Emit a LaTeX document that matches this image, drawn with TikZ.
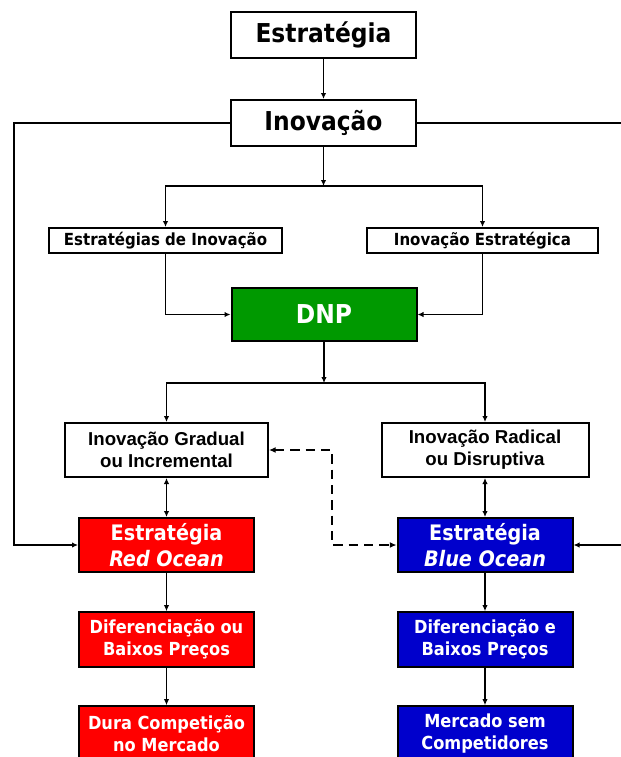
\documentclass[tikz,border=0pt]{standalone}
\usepackage{fontspec}
\setmainfont{Liberation Sans}
\newfontfamily\tahoma{DejaVu Sans Condensed}
\usetikzlibrary{arrows.meta, calc}
\definecolor{dnpgreen}{RGB}{0,153,0}
\definecolor{redocean}{RGB}{255,0,0}
\definecolor{blueocean}{RGB}{0,0,204}

\begin{document}
\begin{tikzpicture}[
  x=0.75pt, y=-0.75pt,
  box/.style={draw=black, line width=1.5pt, inner sep=0pt, align=center, fill=white},
  bigbox/.style={box, minimum width=138.75pt, minimum height=34.5pt, font=\tahoma\bfseries\fontsize{19.5}{23}\selectfont},
  midbox/.style={box, minimum height=18.75pt, font=\tahoma\bfseries\fontsize{12.5}{14}\selectfont},
  twobox/.style={box, minimum height=40.5pt, font=\bfseries\fontsize{14}{16.5}\selectfont},
  oceanbox/.style={box, text=white, minimum width=131.25pt, minimum height=40.5pt, font=\tahoma\bfseries\fontsize{16}{19}\selectfont},
  stepbox/.style={box, text=white, minimum width=131.25pt, minimum height=41pt, font=\tahoma\bfseries\fontsize{13.5}{16.5}\selectfont},
  link/.style={line width=0.8pt, -{Latex[length=4.5pt,width=4pt]}},
  both/.style={line width=0.8pt, {Latex[length=4.5pt,width=4pt]}-{Latex[length=4.5pt,width=4pt]}},
  dashlink/.style={line width=1.5pt, dash pattern=on 7pt off 4.5pt, {Latex[length=5pt,width=4.5pt]}-{Latex[length=5pt,width=4.5pt]}}
]
  \useasboundingbox (0,0) rectangle (621,757);

  % top
  \node[bigbox] (estr) at (323.5,35) {Estratégia};
  \node[bigbox] (inov) at (323.5,123) {Inovação};
  \node[midbox, minimum width=174.75pt] (estinov) at (165.5,240.5) {Estratégias de Inovação};
  \node[midbox, minimum width=173.25pt] (inovest) at (482.5,240.5) {Inovação Estratégica};
  \node[bigbox, fill=dnpgreen, text=white, minimum height=39.75pt] (dnp) at (324,314.5) {DNP};

  % innovation types
  \node[twobox, minimum width=152.25pt] (grad) at (166.5,450) {Inovação Gradual\\ou Incremental};
  \node[twobox, minimum width=155.25pt] (rad) at (485,450) {Inovação Radical\\ou Disruptiva};

  % red / blue ocean
  \node[oceanbox, fill=redocean] (red) at (166.5,545) {Estratégia\\\itshape Red Ocean};
  \node[oceanbox, fill=blueocean] (blue) at (485,545) {Estratégia\\\itshape Blue Ocean};
  \node[stepbox, fill=redocean] (reddif) at (166.5,639.5) {Diferenciação ou\\Baixos Preços};
  \node[stepbox, fill=blueocean] (bluedif) at (485,639.5) {Diferenciação e\\Baixos Preços};
  \node[stepbox, fill=redocean] (redmkt) at (166.5,733.5) {Dura Competição\\no Mercado};
  \node[stepbox, fill=blueocean] (bluemkt) at (485,733.5) {Mercado sem\\Competidores};

  \coordinate (split1) at (323.5,186);
  \coordinate (split2) at (324,383);
  \coordinate (lefttop) at (14,123);
  \coordinate (righttop) at (626,123);
  \coordinate (dashbend) at (332,450);

  \draw[link] (estr) -- (inov);
  \draw[link] (inov) -- (split1);
  \draw[link] (split1) -| (estinov);
  \draw[link] (split1) -| (inovest);
  \draw[link] (estinov) |- (dnp);
  \draw[link] (inovest) |- (dnp);
  \draw[link] (dnp) -- (split2);
  \draw[link] (split2) -| (grad);
  \draw[link] (split2) -| (rad);
  \draw[link] (inov.west) -- (lefttop) |- (red.west);
  \draw[link] (inov.east) -- (righttop) |- (blue.east);
  \draw[both] (grad) -- (red);
  \draw[both] (rad) -- (blue);
  \draw[dashlink] (grad.east) -- (dashbend) |- (blue.west);
  \draw[link] (red) -- (reddif);
  \draw[link] (reddif) -- (redmkt);
  \draw[link] (blue) -- (bluedif);
  \draw[link] (bluedif) -- (bluemkt);
\end{tikzpicture}
\end{document}
